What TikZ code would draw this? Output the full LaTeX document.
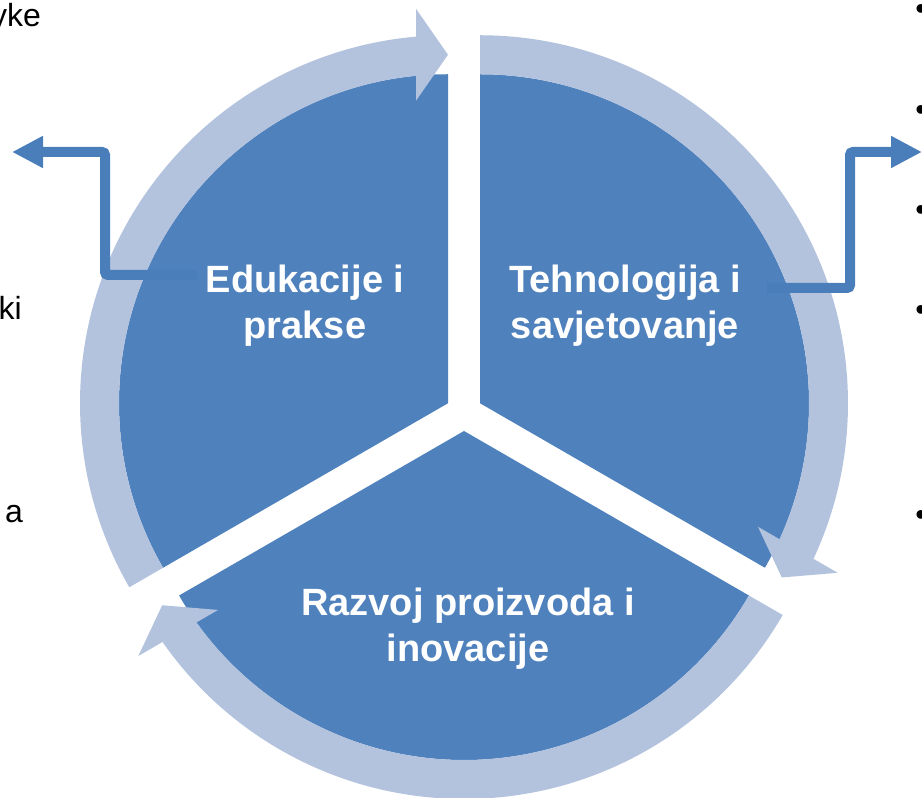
\documentclass[tikz,border=0pt]{standalone}
\usepackage{fontspec}
\setmainfont{Liberation Sans}
\usetikzlibrary{calc,arrows.meta}
\definecolor{secblue}{HTML}{4F81BD}
\definecolor{ringblue}{HTML}{B3C3DE}
\definecolor{linkblue}{HTML}{4A7EBB}
\begin{document}
\begin{tikzpicture}[x=1pt,y=1pt,
  sector/.style={fill=secblue},
  ringarc/.style={fill=ringblue},
  seclabel/.style={text=white,font=\bfseries\fontsize{38}{46}\selectfont,align=center},
  side/.style={font=\fontsize{32}{38}\selectfont,inner sep=0pt},
  link/.style={draw=linkblue,line width=10pt,rounded corners=3pt,-{Triangle[length=31pt,width=30pt]}}]
\useasboundingbox (0,0) rectangle (922,798);
\clip (0,0) rectangle (922,798);
\coordinate (Lc) at (448,394.75);
\coordinate (Rc) at (480,394.75);
\coordinate (Bc) at (464,367);
% sectors
\fill[sector] (Lc) -- ++(90:329) arc[start angle=90,end angle=210,radius=329] -- cycle;
\fill[sector] (Rc) -- ++(-30:329) arc[start angle=-30,end angle=90,radius=329] -- cycle;
\fill[sector] (Bc) -- ++(210:329) arc[start angle=210,end angle=330,radius=329] -- cycle;
% ring arrows
\fill[ringarc] ($(Lc)+(210:368)$) arc[start angle=210,end angle=95.0,radius=368] -- ($(Lc)+(95.0:329)$) arc[start angle=95.0,end angle=210,radius=329] -- cycle;
\fill[ringarc] ($(Lc)+(90:348.5)$) -- ($(Lc)+(90:348.5)+(180:32)+(90:46)$) -- ($(Lc)+(90:348.5)+(180:32)+(270:46)$) -- cycle;
\fill[ringarc] ($(Rc)+(90:368)$) arc[start angle=90,end angle=-25.0,radius=368] -- ($(Rc)+(-25.0:329)$) arc[start angle=-25.0,end angle=90,radius=329] -- cycle;
\fill[ringarc] ($(Rc)+(-30:348.5)$) -- ($(Rc)+(-30:348.5)+(60:32)+(-30:46)$) -- ($(Rc)+(-30:348.5)+(60:32)+(150:46)$) -- cycle;
\fill[ringarc] ($(Bc)+(330:368)$) arc[start angle=330,end angle=215.0,radius=368] -- ($(Bc)+(215.0:329)$) arc[start angle=215.0,end angle=330,radius=329] -- cycle;
\fill[ringarc] ($(Bc)+(210:348.5)$) -- ($(Bc)+(210:348.5)+(300:32)+(210:46)$) -- ($(Bc)+(210:348.5)+(300:32)+(30:46)$) -- cycle;
% labels
\node[seclabel] (edu) at (305,492) {Edukacije i\\prakse};
\node[seclabel] (teh) at (625,492) {Tehnologija i\\savjetovanje};
\node[seclabel] (raz) at (468,169) {Razvoj proizvoda i\\inovacije};
% connectors
\coordinate (lstart) at (197,523);
\coordinate (lend) at (12,646);
\draw[link] (lstart) -- (105,523) -- (105,646) -- (lend);
\coordinate (rstart) at (767,510);
\coordinate (rend) at (922,646);
\draw[link] (rstart) -- (850,510) -- (850,646) -- (rend);
% outside text
\node[side,anchor=base east] (t1) at (41,771) {yke};
\node[side,anchor=base east] (t2) at (22,478) {ki};
\node[side,anchor=base east] (t3) at (23,275) {a};
\node[side] (b1) at (921,786) {•};
\node[side] (b2) at (921,685) {•};
\node[side] (b3) at (921,585) {•};
\node[side] (b4) at (921,485) {•};
\node[side] (b5) at (921,280) {•};
\end{tikzpicture}
\end{document}
